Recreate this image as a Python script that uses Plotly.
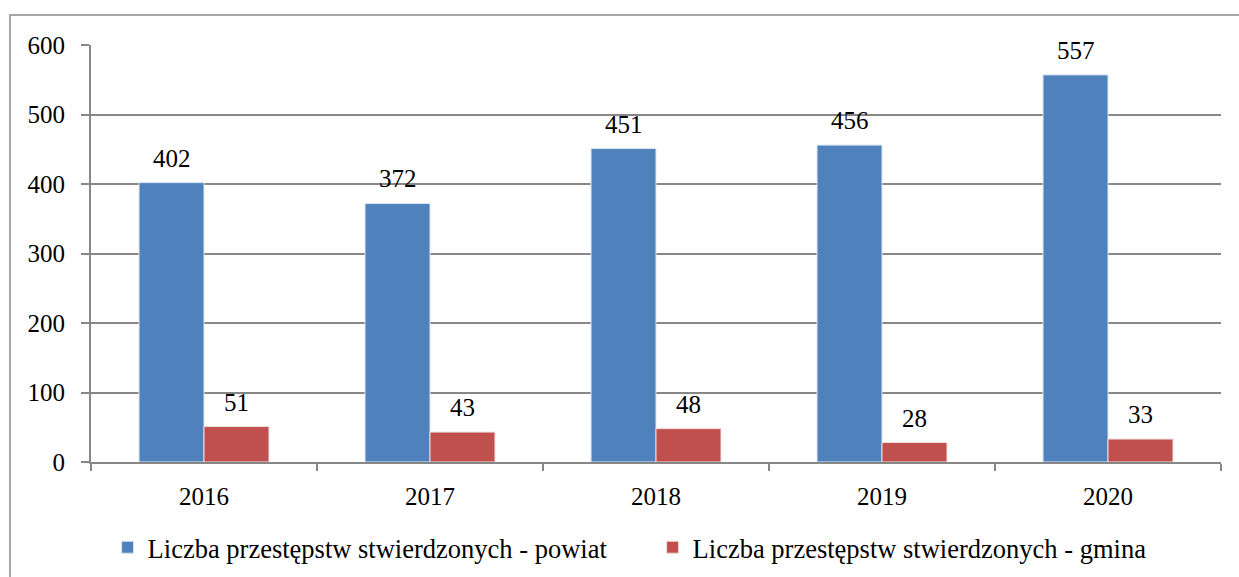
import plotly.graph_objects as go

years = ["2016", "2017", "2018", "2019", "2020"]
powiat = [402, 372, 451, 456, 557]
gmina = [51, 43, 48, 28, 33]
name_powiat = "Liczba przestępstw stwierdzonych - powiat"
name_gmina = "Liczba przestępstw stwierdzonych - gmina"

FONT = "Liberation Serif"
FS = 25
GRID = "#878787"

fig = go.Figure()
fig.add_bar(x=years, y=powiat, name=name_powiat, marker_color="#4F81BD",
            marker_line=dict(color="#dce6f2", width=1))
fig.add_bar(x=years, y=gmina, name=name_gmina, marker_color="#C0504D",
            marker_line=dict(color="#f2dcdb", width=1))

L, R, T, B = 91, 18, 45, 115
W, H = 1239, 577
pw, ph = W - L - R, H - T - B
cat_w = pw / len(years)
bargap = 0.425
bar_w = cat_w * (1 - bargap) / 2

annotations = []
for i, v in enumerate(powiat):
    annotations.append(dict(x=i, y=v, text=str(v), showarrow=False, yanchor="bottom",
                            xshift=-bar_w / 2, yshift=9, font=dict(size=FS, family=FONT, color="black")))
for i, v in enumerate(gmina):
    annotations.append(dict(x=i, y=v, text=str(v), showarrow=False, yanchor="bottom",
                            xshift=bar_w / 2, yshift=9, font=dict(size=FS, family=FONT, color="black")))

fig.update_layout(
    width=W, height=H,
    margin=dict(l=L, r=R, t=T, b=B, autoexpand=False),
    paper_bgcolor="white", plot_bgcolor="white",
    font=dict(family=FONT, size=FS, color="black"),
    barmode="group", bargap=bargap, bargroupgap=0,
    showlegend=True,
    legend=dict(orientation="h", x=0.497, xanchor="center", y=-0.205, yanchor="middle",
                font=dict(size=26.5, family=FONT, color="black"), itemwidth=30,
                entrywidth=500, entrywidthmode="pixels", traceorder="normal"),
    annotations=annotations,
    shapes=[dict(type="rect", xref="paper", yref="paper",
                 x0=(10 - L) / pw, x1=1.05, y0=-0.4, y1=1 + (T - 15) / ph,
                 line=dict(color="#a6a6a6", width=2), fillcolor="rgba(0,0,0,0)", layer="below")],
)
fig.update_yaxes(range=[0, 600], autorange=False, dtick=100, showgrid=True, gridcolor=GRID, gridwidth=2,
                 showline=True, linecolor=GRID, linewidth=2,
                 ticks="outside", ticklen=8, tickcolor=GRID, tickwidth=2,
                 ticklabelstandoff=11, zeroline=False,
                 tickfont=dict(size=FS, family=FONT, color="black"))
fig.update_xaxes(type="category", range=[-0.5, len(years) - 0.5], autorange=False,
                 showline=True, linecolor=GRID, linewidth=2,
                 ticks="outside", ticklen=7, tickcolor=GRID, tickwidth=2,
                 tickson="boundaries", ticklabelstandoff=11, tickangle=0,
                 tickfont=dict(size=FS, family=FONT, color="black"))

fig.write_html("out.html", config={"displayModeBar": False},
               post_script="document.body.style.margin='0';document.body.style.overflow='hidden';")
